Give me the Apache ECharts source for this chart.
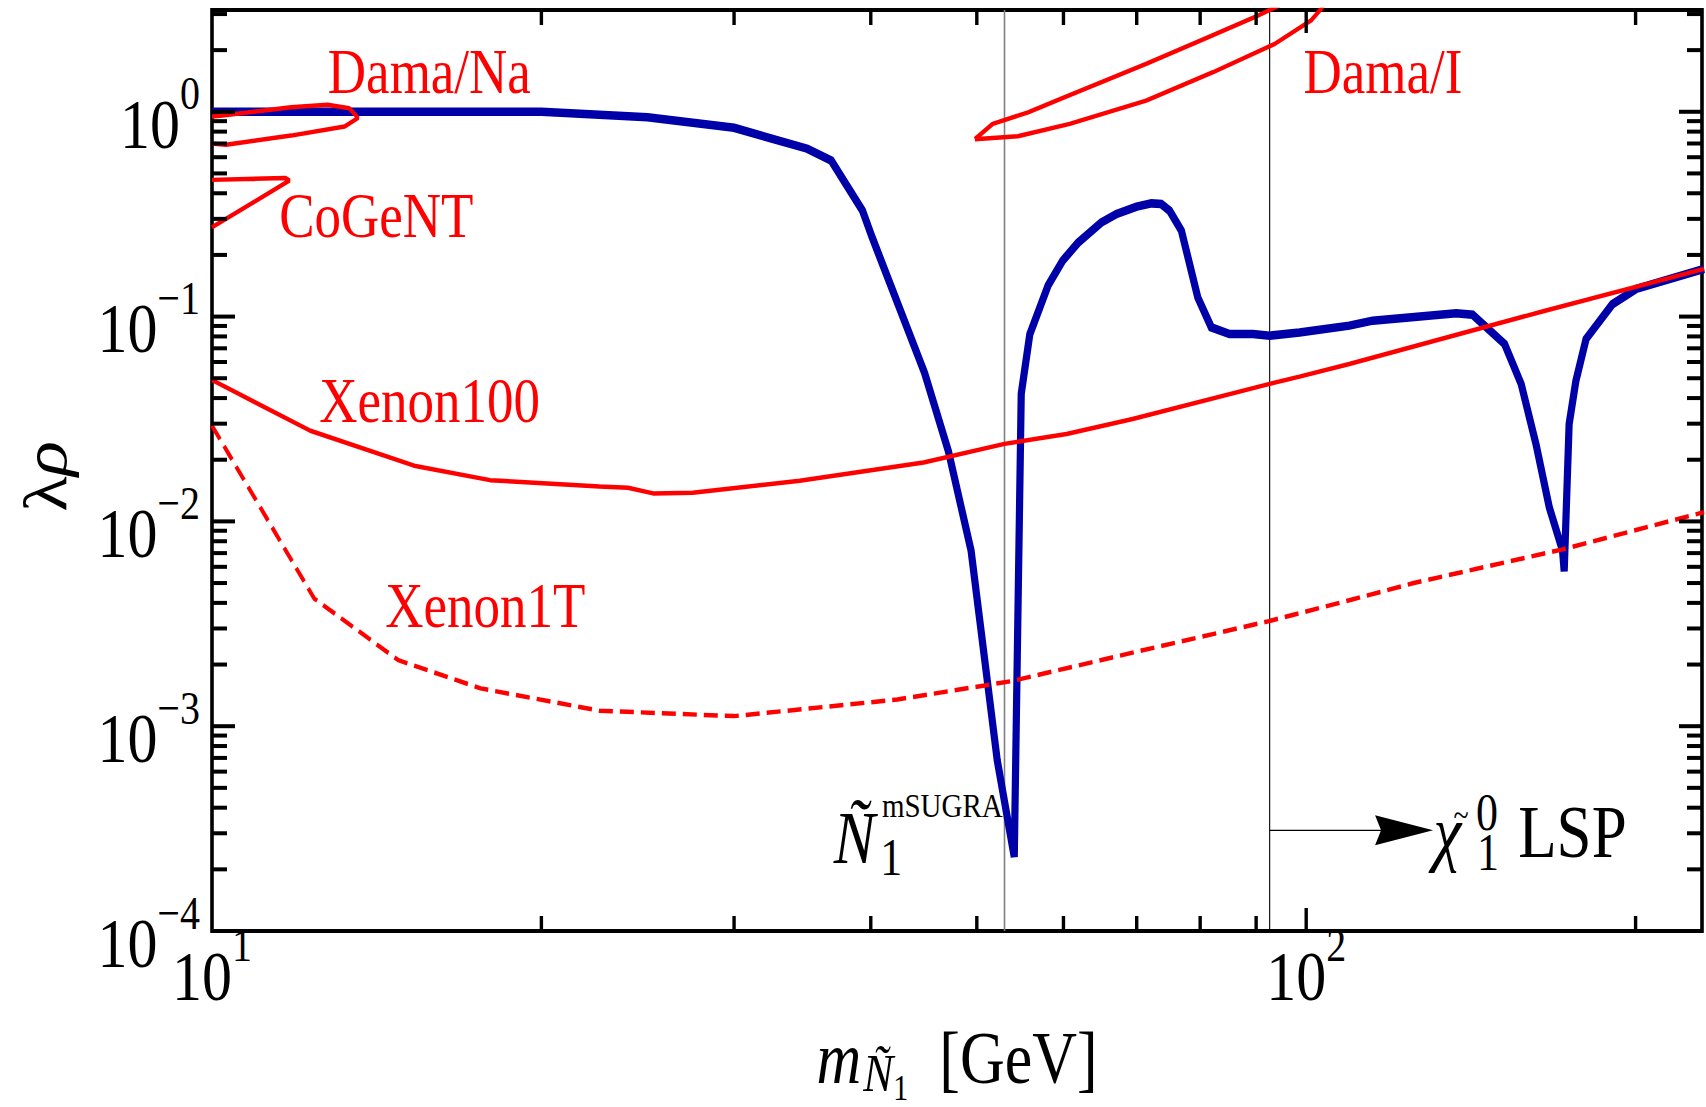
<!DOCTYPE html>
<html>
<head>
<meta charset="utf-8">
<script src="https://cdn.jsdelivr.net/npm/echarts@6/dist/echarts.min.js"></script>
<style>
html,body{margin:0;padding:0;background:#fff;}
body{width:1706px;height:1107px;}
#chart{width:1706px;height:938px;transform:scaleY(1.18017);transform-origin:0 0;}
</style>
</head>
<body>
<div id="chart"></div>
<script>
// ---------------- data ----------------
const FONT = 'Liberation Serif';
const xRange = [10, 230];
const yRange = [1e-4, 3.14];

// frame ticks (values on the axes)
const xMajorTicks = [100];
const xMinorTicks = [20, 30, 40, 50, 60, 70, 80, 90, 200];
const yMajorTicks = [1e-3, 1e-2, 1e-1, 1];
const yMinorTicks = [2e-4, 3e-4, 4e-4, 5e-4, 6e-4, 7e-4, 8e-4, 9e-4,
                     2e-3, 3e-3, 4e-3, 5e-3, 6e-3, 7e-3, 8e-3, 9e-3,
                     0.02, 0.03, 0.04, 0.05, 0.06, 0.07, 0.08, 0.09,
                     0.2, 0.3, 0.4, 0.5, 0.6, 0.7, 0.8, 0.9, 2, 3];

// right-handed sneutrino (blue)
const snuMass = [10, 14, 20, 25, 30, 35, 36.8, 39.3, 40.1, 44.8, 47.1, 49.4, 52.2, 54.1,
                 54.9, 55.9, 58.1, 59.9, 61.9, 65.0, 67.1, 70.0, 72.2, 73.7, 75.0, 76.9,
                 79.6, 81.9, 85.1, 89.4, 92.6, 98.6, 109.5, 115, 137.1, 141.9, 151.8, 157.2,
                 162.2, 166.8, 171.5, 172.1, 173.9, 176.4, 180.2, 190.5, 200.2, 231];
const snuRho  = [1.0, 1.0, 1.0, 0.94, 0.835, 0.66, 0.578, 0.33, 0.245, 0.053, 0.022, 0.0072, 0.00068, 0.00023,
                 0.042, 0.082, 0.142, 0.1875, 0.23, 0.2885, 0.317, 0.344, 0.357, 0.355, 0.329, 0.263,
                 0.124, 0.0886, 0.0822, 0.0822, 0.0807, 0.0837, 0.0903, 0.0955, 0.1037, 0.1021, 0.0735, 0.0469,
                 0.0238, 0.0117, 0.0072, 0.0057, 0.0299, 0.0486, 0.0777, 0.115, 0.1364, 0.171];

// Xenon100 limit
const xe100Mass = [10, 12.3, 15.3, 17.95, 22.6, 24.0, 25.3, 27.5, 34.45, 44.7, 53.0, 60.4, 69.4, 92.6, 98.6, 109.5, 165, 231];
const xe100Rho  = [0.049, 0.0277, 0.0187, 0.0159, 0.0148, 0.0146, 0.0137, 0.0138, 0.0158, 0.0194, 0.0239, 0.0267, 0.0316, 0.0469, 0.0509, 0.0587, 0.1065, 0.171];

// Xenon1T projection
const xe1tMass = [10, 12.4, 14.8, 17.6, 22.6, 30, 42.3, 53.8, 70, 92.5, 109.5, 125.4, 171.5, 231];
const xe1tRho  = [0.0293, 0.0042, 0.0021, 0.00153, 0.00119, 0.00112, 0.00135, 0.00166, 0.00231, 0.00326, 0.00412, 0.0050, 0.0073, 0.0111];

// Dama/Na contour
const damaNaMass = [10, 10.22, 11.81, 12.75, 13.35, 13.6, 13.22, 11.81, 10.3, 10];
const damaNaRho  = [0.947, 0.958, 1.052, 1.081, 1.04, 0.934, 0.847, 0.765, 0.691, 0.699];

// CoGeNT contour
const cogentMass = [10, 11.67, 11.77, 10];
const cogentRho  = [0.465, 0.4755, 0.4618, 0.2728];

// Dama/I contour
const damaIMass = [49.8, 51.7, 55.7, 60.1, 71.4, 81.3, 89.7, 95.5, 104.1, 103.2, 101, 93.6, 82.2, 71.4, 60.8, 54.5, 49.8];
const damaIRho  = [0.735, 0.873, 0.994, 1.177, 1.714, 2.31, 2.895, 3.4, 3.41, 3.18, 2.79, 2.146, 1.56, 1.134, 0.873, 0.759, 0.735];

// vertical marker lines (masses)
const markerMass = [53.0, 92.6];
// arrow: from mass, to mass, at lambda-rho
const arrowFrom = [92.6];
const arrowTo = [130.6];
const arrowAt = [3.1e-4];

// red text labels
const redLabelText = ['Dama/Na', 'CoGeNT', 'Xenon100', 'Xenon1T', 'Dama/I'];
const redLabelMass = [15.8, 14.13, 15.81, 17.77, 117.5];
const redLabelRho  = [1.557, 0.310, 0.03875, 0.003861, 1.557];

// black symbol labels
const symText = ['Ñ', '1', 'mSUGRA', 'χ', '~', '0', '1', 'LSP'];
const symMass = [38.64, 41.77, 46.5, 134.6, 138.5, 146.3, 146.6, 175.1];
const symRho  = [2.82e-4, 2.284e-4, 4.10e-4, 3.05e-4, 3.69e-4, 3.79e-4, 2.415e-4, 3.05e-4];

// ---------------- styles ----------------
const symStyles = [
  {fontSize: 62, fontStyle: 'italic', lineHeight: 50},
  {fontSize: 44, fontStyle: 'normal', lineHeight: 30},
  {fontSize: 29, fontStyle: 'normal', lineHeight: 20},
  {fontSize: 63, fontStyle: 'italic', lineHeight: 20},
  {fontSize: 28, fontStyle: 'normal', lineHeight: 6},
  {fontSize: 44, fontStyle: 'normal', lineHeight: 30},
  {fontSize: 44, fontStyle: 'normal', lineHeight: 30},
  {fontSize: 63, fontStyle: 'normal', lineHeight: 50}
];
const vlineStyles = [{stroke: '#808080', lineWidth: 1.6}, {stroke: '#000', lineWidth: 1.1}];

const zip = (a, b) => a.map((v, i) => [v, b[i]]);

function powLabel(v) {
  const l = Math.log10(v);
  const e = Math.round(l);
  if (Math.abs(l - e) > 1e-6) return '';
  return '{b|10}{s|' + (e < 0 ? '\u2212' + (-e) : e) + '}';
}
const tickRich = {
  b: {fontFamily: FONT, fontSize: 60, color: '#000', verticalAlign: 'bottom', lineHeight: 60},
  s: {fontFamily: FONT, fontSize: 40, color: '#000', verticalAlign: 'bottom', lineHeight: 40, padding: [0, 0, 36, 0]}
};

// tick items
const tickData = [];
xMajorTicks.forEach(v => tickData.push([v, 0.01, 1, 0]));
xMinorTicks.forEach(v => tickData.push([v, 0.01, 0, 0]));
yMajorTicks.forEach(v => tickData.push([20, v, 1, 1]));
yMinorTicks.forEach(v => tickData.push([20, v, 0, 1]));

const SY = 1.18017; // vertical stretch applied by CSS
const chart = echarts.init(document.getElementById('chart'), null, {renderer: 'svg'});

const option = {
  animation: false,
  backgroundColor: '#fff',
  grid: {left: 212, right: 4, top: 10 / SY, bottom: 176 / SY, containLabel: false, outerBoundsMode: 'none',
         show: true, borderColor: '#000', borderWidth: 3.6, backgroundColor: 'transparent'},
  xAxis: {
    type: 'log', logBase: 10, min: xRange[0], max: xRange[1],
    axisLine: {show: false}, axisTick: {show: false}, splitLine: {show: false},
    axisLabel: {formatter: powLabel, rich: tickRich, margin: 8, showMinLabel: true, showMaxLabel: true},
    name: '{m|m}{n|Ñ}{o|1}{g|  [GeV]}',
    nameLocation: 'middle', nameGap: 77,
    nameTextStyle: {
      rich: {
        m: {fontFamily: FONT, fontSize: 62, fontStyle: 'italic', color: '#000', verticalAlign: 'top', lineHeight: 62},
        n: {fontFamily: FONT, fontSize: 45, fontStyle: 'italic', color: '#000', verticalAlign: 'top', lineHeight: 45, padding: [21, 0, 0, 2]},
        o: {fontFamily: FONT, fontSize: 30, color: '#000', verticalAlign: 'top', lineHeight: 30, padding: [41, 0, 0, 0]},
        g: {fontFamily: FONT, fontSize: 62, color: '#000', verticalAlign: 'top', lineHeight: 62}
      }
    }
  },
  yAxis: {
    type: 'log', logBase: 10, min: yRange[0], max: yRange[1],
    axisLine: {show: false}, axisTick: {show: false}, splitLine: {show: false},
    axisLabel: {formatter: powLabel, rich: tickRich, margin: 12, padding: [20.5, 0, 0, 0], showMinLabel: true, showMaxLabel: true},
    name: '{l|λ}{r|ρ}',
    nameLocation: 'middle', nameGap: 136, nameRotate: 90,
    nameTextStyle: {
      padding: [0, 10, 0, 0],
      rich: {
        l: {fontFamily: FONT, fontSize: 62, color: '#000'},
        r: {fontFamily: FONT, fontSize: 62, fontStyle: 'italic', color: '#000'}
      }
    }
  },
  series: [
    {
      type: 'custom', name: 'markers', z: 1,
      data: markerMass.map(m => [m, 0.01]),
      encode: {x: 0, y: 1},
      renderItem: function (params, api) {
        const cs = params.coordSys;
        const p = api.coord([api.value(0), api.value(1)]);
        return {type: 'line', shape: {x1: p[0], y1: cs.y, x2: p[0], y2: cs.y + cs.height}, style: vlineStyles[params.dataIndex]};
      }
    },
    {
      type: 'line', name: 'sneutrino', z: 2, data: zip(snuMass, snuRho), showSymbol: false, symbol: 'none',
      lineStyle: {color: '#0000a8', width: 7.2, join: 'miter'}
    },
    {
      type: 'line', name: 'Xenon100', z: 3, data: zip(xe100Mass, xe100Rho), symbol: 'none',
      lineStyle: {color: '#ff0000', width: 3.8}
    },
    {
      type: 'line', name: 'Xenon1T', z: 3, data: zip(xe1tMass, xe1tRho), symbol: 'none',
      lineStyle: {color: '#ff0000', width: 3.8, type: [14, 7]}
    },
    {
      type: 'line', name: 'Dama/Na', z: 3, data: zip(damaNaMass, damaNaRho), symbol: 'none',
      lineStyle: {color: '#ff0000', width: 3.8}
    },
    {
      type: 'line', name: 'CoGeNT', z: 3, data: zip(cogentMass, cogentRho), symbol: 'none',
      lineStyle: {color: '#ff0000', width: 3.8}
    },
    {
      type: 'line', name: 'Dama/I', z: 3, data: zip(damaIMass, damaIRho), symbol: 'none',
      lineStyle: {color: '#ff0000', width: 3.8}
    },
    {
      type: 'custom', name: 'arrow', z: 4,
      data: arrowFrom.map((m, i) => [m, arrowTo[i], arrowAt[i]]),
      encode: {x: [0, 1], y: 2},
      renderItem: function (params, api) {
        const p0 = api.coord([api.value(0), api.value(2)]);
        const p1 = api.coord([api.value(1), api.value(2)]);
        const headL = 58, headW = 15 / SY, notch = 6;
        return {type: 'group', children: [
          {type: 'line', shape: {x1: p0[0], y1: p0[1], x2: p1[0] - headL + notch, y2: p1[1]}, style: {stroke: '#000', lineWidth: 1.1}},
          {type: 'polygon', shape: {points: [[p1[0], p1[1]], [p1[0] - headL, p1[1] - headW], [p1[0] - headL + notch, p1[1]], [p1[0] - headL, p1[1] + headW]]}, style: {fill: '#000'}}
        ]};
      }
    },
    {
      type: 'scatter', name: 'redLabels', z: 5, symbolSize: 0, silent: true,
      itemStyle: {opacity: 1},
      data: redLabelText.map((t, i) => ({value: [redLabelMass[i], redLabelRho[i]], name: t})),
      label: {show: true, position: 'inside', formatter: '{b}', fontFamily: FONT, fontSize: 53, color: '#ff0000', opacity: 1, align: 'center', verticalAlign: 'middle'}
    },
    {
      type: 'scatter', name: 'symLabels', z: 5, symbolSize: 0, silent: true,
      itemStyle: {opacity: 1},
      data: symText.map((t, i) => ({
        value: [symMass[i], symRho[i]], name: t,
        label: {fontSize: symStyles[i].fontSize, fontStyle: symStyles[i].fontStyle, lineHeight: symStyles[i].lineHeight}
      })),
      label: {show: true, position: 'inside', formatter: '{b}', fontFamily: FONT, color: '#000', opacity: 1, align: 'center', verticalAlign: 'middle'}
    },
    {
      type: 'custom', name: 'ticks', z: 10, silent: true,
      data: tickData,
      encode: {x: 0, y: 1},
      renderItem: function (params, api) {
        const cs = params.coordSys;
        const p = api.coord([api.value(0), api.value(1)]);
        const major = api.value(2) === 1;
        const st = {stroke: '#000', lineWidth: 3.4};
        if (api.value(3) === 0) {
          const len = (major ? 23 : 15) / SY;
          return {type: 'group', children: [
            {type: 'line', shape: {x1: p[0], y1: cs.y + cs.height, x2: p[0], y2: cs.y + cs.height - len}, style: st},
            {type: 'line', shape: {x1: p[0], y1: cs.y, x2: p[0], y2: cs.y + len}, style: st}
          ]};
        }
        const len = major ? 23 : 15;
        return {type: 'group', children: [
          {type: 'line', shape: {x1: cs.x, y1: p[1], x2: cs.x + len, y2: p[1]}, style: st},
          {type: 'line', shape: {x1: cs.x + cs.width, y1: p[1], x2: cs.x + cs.width - len, y2: p[1]}, style: st}
        ]};
      }
    }
  ]
};
chart.setOption(option);
</script>
</body>
</html>
